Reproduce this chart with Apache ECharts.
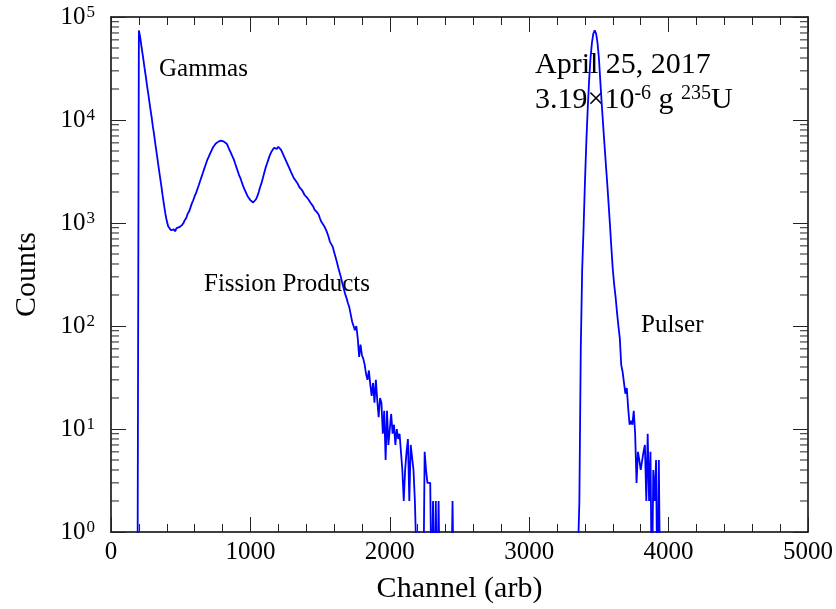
<!DOCTYPE html>
<html>
<head>
<meta charset="utf-8">
<script src="https://cdn.jsdelivr.net/npm/echarts@6/dist/echarts.min.js"></script>
<style>
  html, body { margin: 0; padding: 0; background: #fff; }
  #chart { width: 836px; height: 609px; }
</style>
</head>
<body>
<div id="chart"></div>
<script>
// Spectrum counts, binned every 10 channels.
const binWidth = 10;

// Gamma spike + fission-product region, channels 190 .. 2470
const fissionStart = 190;
const fissionCounts = [
  0, 74000, 63000, 50000, 40700, 32400, 26300, 20900, 17000, 13500,
  11000, 8700, 7100, 5600, 4500, 3600, 2900, 2350, 1860, 1510,
  1230, 1050, 930, 890, 850, 830, 870, 830, 890, 870,
  910, 930, 955, 1000, 1070, 1120, 1230, 1290, 1410, 1550,
  1660, 1820, 1950, 2140, 2340, 2570, 2820, 3090, 3390, 3720,
  4070, 4370, 4680, 5010, 5370, 5620, 5890, 6030, 6170, 6170,
  6310, 6170, 6170, 6030, 5890, 5500, 5130, 4790, 4470, 4170,
  3800, 3470, 3160, 2880, 2690, 2450, 2240, 2090, 1950, 1820,
  1740, 1660, 1620, 1580, 1620, 1700, 1820, 2000, 2240, 2450,
  2750, 3090, 3470, 3800, 4170, 4570, 4900, 5130, 5370, 5500,
  5250, 5500, 5370, 5130, 4790, 4470, 4170, 3890, 3630, 3390,
  3160, 2950, 2750, 2630, 2510, 2400, 2240, 2190, 2090, 2000,
  1860, 1820, 1740, 1660, 1580, 1550, 1450, 1350, 1320, 1260,
  1200, 1100, 1020, 980, 930, 870, 810, 740, 660, 650,
  590, 525, 470, 420, 370, 330, 295, 257, 229, 204,
  186, 166, 151, 129, 110, 112, 91, 100, 76, 50,
  66, 52, 48, 42, 34, 30, 37, 27, 21, 28,
  18, 30, 19, 13, 20, 18, 9, 15, 5, 15,
  7, 10, 14, 9, 11, 7, 10, 8, 9, 6,
  4, 2, 4, 6, 8, 2, 7, 7, 4, 2,
  2, 0, 1, 0, 0, 0, 6, 4, 3, 3,
  3, 0, 2, 0, 2, 0, 2, 0, 0, 0,
  0, 0, 0, 0, 0, 0, 2, 0, 0
];

// Pulser peak, channels 3340 .. 3960
const pulserStart = 3340;
const pulserCounts = [
  0, 0, 2, 60, 350, 890, 2500, 6200, 13000, 24500,
  40000, 56000, 69000, 74000, 69000, 56000, 40000, 24000, 14500, 9100,
  5800, 3700, 2400, 1500, 930, 560, 350, 250, 190, 135,
  100, 76, 42, 36, 28, 22, 25, 16, 11, 12,
  11, 15, 9, 3, 6, 5, 4, 4, 6, 7,
  2, 9, 2, 6, 0, 4, 2, 5, 0, 5,
  0, 0, 0
];

// Log-axis minor tick values (2..9 in each decade)
const minorTickValues = [];
[1, 10, 100, 1000, 10000].forEach(function (d) {
  for (let k = 2; k <= 9; k++) minorTickValues.push([0, k * d]);
});

// Empty bins sit below the log axis floor so the trace drops off the plot.
const ZERO_FLOOR = 0.2;
function toPairs(start, counts) {
  return counts.map(function (c, i) {
    return [start + i * binWidth, c > 0 ? c : ZERO_FLOOR];
  });
}
const spectrum = toPairs(fissionStart, fissionCounts).concat(toPairs(pulserStart, pulserCounts));

const FONT = '"Liberation Serif", "Times New Roman", serif';
const INK = '#000';

const chart = echarts.init(document.getElementById('chart'), null, { renderer: 'canvas' });

const tickStyle = { inside: true, length: 15, lineStyle: { color: '#222', width: 1 } };
const minorStyle = { show: true, splitNumber: 5, length: 8, lineStyle: { color: '#222', width: 1 } };
const frameLine = { show: true, onZero: false, lineStyle: { color: INK, width: 1.5 } };

chart.setOption({
  animation: false,
  backgroundColor: '#fff',
  grid: { left: 111, top: 17, width: 700, height: 515, containLabel: false },
  xAxis: [
    {
      type: 'value', min: 0, max: 5000, interval: 1000,
      name: 'Channel (arb)', nameLocation: 'middle', nameGap: 42,
      nameTextStyle: { fontFamily: FONT, fontSize: 30, color: INK },
      axisLine: frameLine, axisTick: tickStyle, minorTick: minorStyle,
      axisLabel: {
        fontFamily: FONT, fontSize: 25, color: INK, margin: 8,
        formatter: function (v) { return String(v); }
      },
      splitLine: { show: false }
    },
    {
      type: 'value', min: 0, max: 5000, interval: 1000, position: 'top',
      axisLine: frameLine, axisTick: tickStyle, minorTick: minorStyle,
      axisLabel: { show: false }, splitLine: { show: false }
    }
  ],
  yAxis: [
    {
      type: 'log', logBase: 10, min: 1, max: 100000,
      name: 'Counts', nameLocation: 'middle', nameGap: 69,
      nameTextStyle: { fontFamily: FONT, fontSize: 30, color: INK },
      axisLine: frameLine, axisTick: tickStyle,
      axisLabel: {
        margin: 16, color: INK,
        formatter: function (v) {
          return '{b|10}{e|' + Math.round(Math.log10(v)) + '}';
        },
        rich: {
          b: { fontFamily: FONT, fontSize: 25, color: INK, lineHeight: 26 },
          e: { fontFamily: FONT, fontSize: 17, color: INK, verticalAlign: 'top', lineHeight: 26, padding: [0, 0, 10, 1] }
        }
      },
      splitLine: { show: false }
    },
    {
      type: 'log', logBase: 10, min: 1, max: 100000, position: 'right',
      axisLine: frameLine, axisTick: tickStyle,
      axisLabel: { show: false }, splitLine: { show: false }
    }
  ],
  graphic: [
    { type: 'text', left: 159, top: 57, style: { text: 'Gammas', font: '25px ' + FONT, fill: INK } },
    { type: 'text', left: 204, top: 272, style: { text: 'Fission Products', font: '25px ' + FONT, fill: INK } },
    { type: 'text', left: 641, top: 313, style: { text: 'Pulser', font: '25px ' + FONT, fill: INK } },
    { type: 'text', left: 535, top: 50, style: { text: 'April 25, 2017', font: '30px ' + FONT, fill: INK } },
    {
      type: 'text', left: 535, top: 84,
      style: {
        text: '{n|3.19×10}{s|-6}{n| g }{s|235}{n|U}',
        fill: INK,
        rich: {
          n: { fontFamily: FONT, fontSize: 30, color: INK, lineHeight: 32 },
          s: { fontFamily: FONT, fontSize: 20, color: INK, verticalAlign: 'top', lineHeight: 32, padding: [0, 0, 10, 0] }
        }
      }
    }
  ],
  series: [
    {
      type: 'line',
      data: spectrum,
      xAxisIndex: 0, yAxisIndex: 0,
      showSymbol: false, symbol: 'none',
      clip: true,
      lineStyle: { color: '#0000ff', width: 1.8 },
      z: 3
    },
    {
      // minor ticks at 2..9 of every decade, on the left and right frame
      type: 'custom',
      xAxisIndex: 0, yAxisIndex: 0,
      data: minorTickValues,
      silent: true,
      z: 4,
      renderItem: function (params, api) {
        const cs = params.coordSys;
        const y = api.coord([0, api.value(1)])[1];
        const style = { stroke: '#222', lineWidth: 1 };
        return {
          type: 'group',
          children: [
            { type: 'line', shape: { x1: cs.x, y1: y, x2: cs.x + 8, y2: y }, style: style },
            { type: 'line', shape: { x1: cs.x + cs.width - 8, y1: y, x2: cs.x + cs.width, y2: y }, style: style }
          ]
        };
      }
    }
  ]
});
</script>
</body>
</html>
